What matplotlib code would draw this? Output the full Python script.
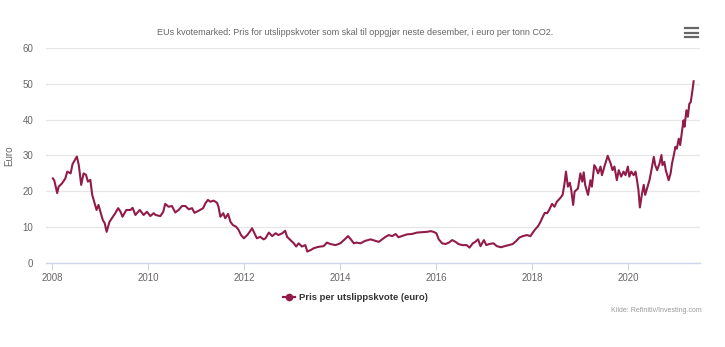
import matplotlib.pyplot as plt
from matplotlib.lines import Line2D

# Pris per utslippskvote (euro) (desimalår, euro)
years = [
    2008.01, 2008.04, 2008.10, 2008.13, 2008.20, 2008.27, 2008.31, 2008.38, 2008.42, 2008.51,
    2008.55, 2008.60, 2008.65, 2008.70, 2008.74, 2008.79, 2008.83, 2008.88, 2008.92, 2008.96,
    2009.00, 2009.05, 2009.09, 2009.13, 2009.19, 2009.24, 2009.31, 2009.37, 2009.42, 2009.46,
    2009.54, 2009.63, 2009.67, 2009.73, 2009.82, 2009.90, 2009.97, 2010.04, 2010.11, 2010.15,
    2010.21, 2010.25, 2010.31, 2010.35, 2010.42, 2010.49, 2010.56, 2010.63, 2010.70, 2010.77,
    2010.84, 2010.91, 2010.96, 2011.05, 2011.14, 2011.19, 2011.24, 2011.29, 2011.36, 2011.43,
    2011.46, 2011.50, 2011.56, 2011.60, 2011.66, 2011.71, 2011.76, 2011.83, 2011.88, 2011.93,
    2011.99, 2012.06, 2012.11, 2012.16, 2012.21, 2012.26, 2012.33, 2012.40, 2012.44, 2012.51,
    2012.58, 2012.65, 2012.71, 2012.79, 2012.85, 2012.89, 2012.96, 2013.03, 2013.08, 2013.13,
    2013.20, 2013.27, 2013.31, 2013.38, 2013.44, 2013.51, 2013.58, 2013.65, 2013.72, 2013.79,
    2013.90, 2014.00, 2014.09, 2014.16, 2014.23, 2014.28, 2014.33, 2014.42, 2014.52, 2014.63,
    2014.73, 2014.80, 2014.87, 2014.94, 2015.01, 2015.08, 2015.15, 2015.21, 2015.28, 2015.39,
    2015.49, 2015.60, 2015.70, 2015.81, 2015.88, 2015.94, 2016.00, 2016.05, 2016.12, 2016.19,
    2016.26, 2016.33, 2016.40, 2016.46, 2016.54, 2016.63, 2016.69, 2016.76, 2016.81, 2016.87,
    2016.92, 2016.99, 2017.04, 2017.10, 2017.19, 2017.26, 2017.35, 2017.42, 2017.51, 2017.59,
    2017.66, 2017.73, 2017.80, 2017.89, 2017.96, 2018.01, 2018.06, 2018.12, 2018.17, 2018.21,
    2018.26, 2018.31, 2018.35, 2018.41, 2018.46, 2018.51, 2018.58, 2018.63, 2018.67, 2018.70,
    2018.74, 2018.78, 2018.81, 2018.85, 2018.88, 2018.95, 2019.00, 2019.04, 2019.07, 2019.10,
    2019.16, 2019.21, 2019.24, 2019.29, 2019.33, 2019.37, 2019.42, 2019.45, 2019.51, 2019.57,
    2019.63, 2019.67, 2019.71, 2019.76, 2019.80, 2019.85, 2019.90, 2019.94, 2019.99, 2020.02,
    2020.06, 2020.11, 2020.15, 2020.18, 2020.21, 2020.24, 2020.28, 2020.32, 2020.35, 2020.41,
    2020.44, 2020.48, 2020.53, 2020.56, 2020.60, 2020.65, 2020.69, 2020.71, 2020.75, 2020.78,
    2020.84, 2020.88, 2020.91, 2020.94, 2020.98, 2021.01, 2021.05, 2021.08, 2021.12, 2021.15,
    2021.17, 2021.21, 2021.24, 2021.27, 2021.30, 2021.34, 2021.36,
]
pris = [
    23.6, 23.0, 19.5, 21.3, 22.2, 23.6, 25.5, 25.0, 27.6, 29.7,
    27.3, 21.8, 25.0, 24.6, 22.7, 23.2, 19.0, 16.7, 14.8, 16.2,
    14.3, 12.0, 11.1, 8.7, 11.5, 12.5, 13.9, 15.3, 14.3, 12.9,
    14.8, 14.8, 15.4, 13.4, 14.8, 13.4, 14.3, 13.1, 13.9, 13.4,
    13.2, 13.1, 14.3, 16.5, 15.7, 15.9, 14.1, 14.8, 15.9, 15.9,
    15.0, 15.3, 14.0, 14.6, 15.3, 16.7, 17.6, 17.1, 17.4, 16.8,
    15.7, 12.9, 13.9, 12.5, 13.7, 11.5, 10.6, 10.1, 9.2, 7.8,
    6.9, 7.8, 8.7, 9.7, 8.3, 6.9, 7.3, 6.6, 6.9, 8.5,
    7.5, 8.3, 7.8, 8.3, 9.0, 7.3, 6.4, 5.5, 4.6, 5.5,
    4.6, 5.0, 3.2, 3.6, 4.1, 4.4, 4.6, 4.7, 5.7, 5.3,
    5.0, 5.5, 6.6, 7.5, 6.4, 5.5, 5.7, 5.5, 6.2, 6.6,
    6.2, 5.9, 6.6, 7.3, 7.8, 7.5, 8.1, 7.2, 7.5, 8.0,
    8.1, 8.5, 8.6, 8.7, 8.9, 8.7, 8.3, 6.6, 5.5, 5.3,
    5.7, 6.4, 5.9, 5.3, 5.0, 5.0, 4.3, 5.5, 5.9, 6.6,
    4.7, 6.4, 5.0, 5.3, 5.5, 4.7, 4.4, 4.7, 5.0, 5.3,
    6.1, 7.1, 7.5, 7.8, 7.5, 8.5, 9.4, 10.3, 11.5, 12.7,
    14.0, 13.9, 14.8, 16.5, 15.7, 17.1, 18.1, 19.0, 22.2, 25.5,
    21.3, 22.4, 20.4, 16.2, 19.9, 20.8, 25.0, 22.7, 25.3, 21.8,
    19.0, 23.1, 21.3, 27.3, 26.4, 25.0, 26.9, 24.5, 27.3, 29.9,
    27.8, 25.9, 26.9, 23.1, 25.9, 24.1, 25.5, 24.5, 26.9, 24.1,
    25.5, 24.5, 25.5, 23.1, 20.4, 15.5, 19.0, 21.8, 19.0, 21.8,
    23.1, 25.9, 29.6, 27.3, 25.9, 27.8, 30.1, 27.3, 28.2, 25.9,
    23.1, 25.0, 27.8, 29.6, 32.4, 31.9, 34.7, 32.9, 37.0, 39.8,
    38.0, 42.6, 40.8, 44.4, 44.9, 48.6, 50.7,
]
x_ticks = [2008, 2010, 2012, 2014, 2016, 2018, 2020]
y_ticks = [0, 10, 20, 30, 40, 50, 60]

farge = "#921c49"
plt.rcParams['font.family'] = ['Liberation Sans', 'DejaVu Sans']

fig = plt.figure(figsize=(7.25, 3.47), dpi=100)
ax = fig.add_axes([0.063, 0.242, 0.903, 0.62])

ax.plot(years, pris, color=farge, linewidth=1.5, solid_joinstyle='round')

ax.set_xlim(2007.86, 2021.5)
ax.set_ylim(0, 60)
ax.set_xticks(x_ticks)
ax.set_yticks(y_ticks)
ax.grid(axis='y', color='#e6e6e6', linewidth=0.9)
ax.set_axisbelow(True)
for s in ['top', 'right', 'left']:
    ax.spines[s].set_visible(False)
ax.spines['bottom'].set_color('#ccd6eb')
ax.spines['bottom'].set_linewidth(1)
ax.tick_params(axis='y', length=0, pad=9, labelsize=7, labelcolor='#666666')
ax.tick_params(axis='x', length=5, color='#ccd6eb', pad=2, labelsize=7, labelcolor='#666666')
ax.set_ylabel('Euro', fontsize=7, color='#666666', labelpad=6)

fig.text(0.49, 0.905, 'EUs kvotemarked: Pris for utslippskvoter som skal til oppgjør neste desember, i euro per tonn CO2.',
         ha='center', va='center', fontsize=6.5, color='#666666')

# menyikon
for yy in [0.918, 0.905, 0.892]:
    fig.add_artist(Line2D([0.945, 0.963], [yy, yy], color='#666666', linewidth=1.6,
                          transform=fig.transFigure))

# forklaring
fig.add_artist(Line2D([0.391, 0.407], [0.144, 0.144], color=farge, linewidth=1.6,
                      transform=fig.transFigure))
fig.add_artist(Line2D([0.399], [0.144], color=farge, marker='o', markersize=4.5,
                      linestyle='none', transform=fig.transFigure))
fig.text(0.412, 0.144, 'Pris per utslippskvote (euro)', ha='left', va='center',
         fontsize=6.8, fontweight='bold', color='#333333')

fig.text(0.968, 0.104, 'Kilde: Refinitiv/Investing.com', ha='right', va='center',
         fontsize=5.0, color='#999999')

fig.savefig('out.png', dpi=100)
